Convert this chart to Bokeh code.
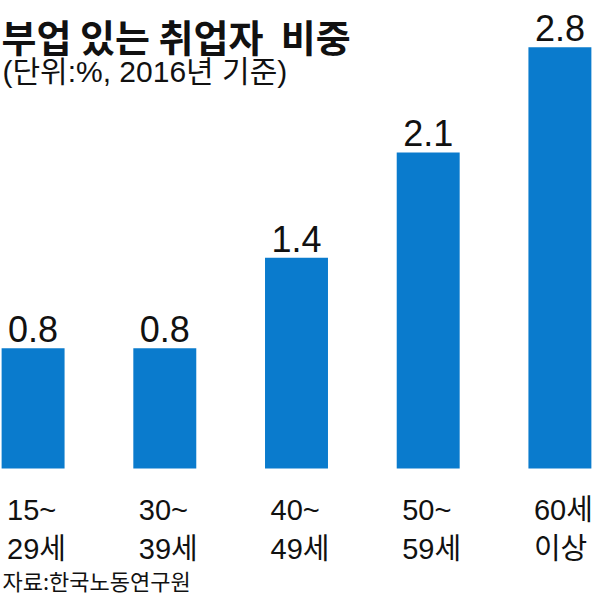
from bokeh.plotting import figure
from bokeh.models import FactorRange, Range1d, Label, ColumnDataSource
from bokeh.core.properties import value
from bokeh.embed import file_html
from bokeh.resources import INLINE

# ---- data ----
ages = ["15~29세", "30~39세", "40~49세", "50~59세", "60세 이상"]
label_line1 = ["15~", "30~", "40~", "50~", "60세"]
label_line2 = ["29세", "39세", "49세", "59세", "이상"]
shares = [0.8, 0.8, 1.4, 2.1, 2.8]
share_labels = ["0.8", "0.8", "1.4", "2.1", "2.8"]

title_text = "부업 있는 취업자\u00a0\u00a0비중"
subtitle_text = "(단위:%, 2016년 기준)"
source_text = "자료:한국노동연구원"

BAR = "#0a7bcd"
INK = "#111111"
MIX_FONT = "'Liberation Sans', 'Noto Sans CJK KR'"
KR_FONT = "'Noto Sans CJK KR'"

src = ColumnDataSource(dict(age=ages, share=shares, lab=share_labels,
                            l1=label_line1, l2=label_line2, zero=[0] * len(ages)))

p = figure(width=592, height=600,
           x_range=FactorRange(factors=ages, range_padding=-0.2525,
                               range_padding_units="absolute"),
           y_range=Range1d(-0.877, 3.110),
           output_backend="svg", toolbar_location=None, min_border=0)
p.axis.visible = False
p.grid.visible = False
p.outline_line_color = None
p.background_fill_color = "white"
p.border_fill_color = "white"

p.vbar(x="age", top="share", bottom=0, width=0.478, source=src,
       fill_color=BAR, line_color=None)

p.text(x="age", y="share", text="lab", source=src, text_align="center",
       text_baseline="alphabetic", y_offset=-19, text_font_size="36px",
       text_font=value(MIX_FONT), text_color=INK)

p.text(x="age", y="zero", text="l1", source=src, text_align="left",
       text_baseline="alphabetic", x_offset=-26, y_offset=41,
       text_font_size="29px", text_font=value(MIX_FONT), text_color=INK)
p.text(x="age", y="zero", text="l2", source=src, text_align="left",
       text_baseline="alphabetic", x_offset=-26, y_offset=80,
       text_font_size="29px", text_font=value(MIX_FONT), text_color=INK)

p.add_layout(Label(x=1, y=565, x_units="screen", y_units="screen", text=title_text,
                   text_font=KR_FONT, text_font_size="38px", text_font_style="bold",
                   text_color=INK, text_baseline="alphabetic"))
p.add_layout(Label(x=2, y=529, x_units="screen", y_units="screen", text=subtitle_text,
                   text_font=MIX_FONT, text_font_size="30px",
                   text_color=INK, text_baseline="alphabetic"))
p.add_layout(Label(x=2, y=5, x_units="screen", y_units="screen", text=source_text,
                   text_font=KR_FONT, text_font_size="22px",
                   text_color=INK, text_baseline="bottom"))

open("out.html", "w").write(file_html(p, INLINE))
